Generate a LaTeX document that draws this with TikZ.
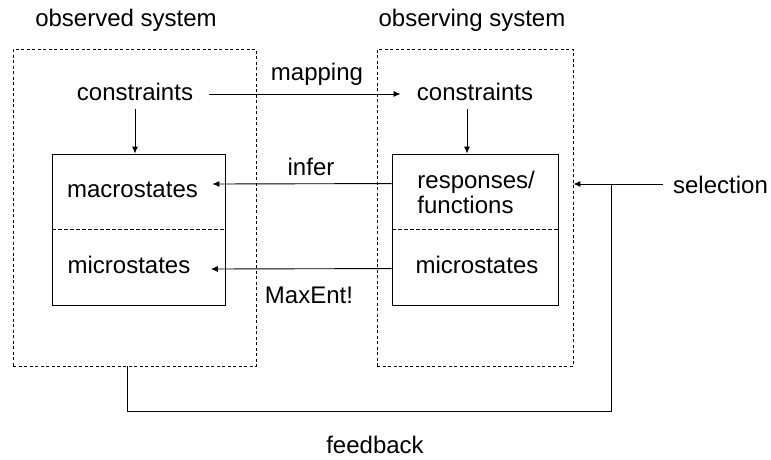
\documentclass[tikz,border=0pt]{standalone}
\usepackage{fontspec}
\setmainfont{Liberation Sans}
\usetikzlibrary{arrows.meta,positioning}

\begin{document}
\begin{tikzpicture}[x=1pt,y=-1pt,line width=0.9pt,
            font=\fontsize{24}{25}\selectfont,inner sep=0pt,
            txt/.style={anchor=base,text height=17pt,text depth=5pt},
            sysbox/.style={draw,dash pattern=on 3pt off 2.5pt,line width=0.8pt,minimum height=317pt},
            statebox/.style={draw,minimum height=151pt},
            divider/.style={dash pattern=on 4pt off 2pt,line width=0.8pt},
            arr/.style={-{Latex[length=7pt,width=6pt]}}]

        \useasboundingbox (0,0) rectangle (771,459);

        % Define systems
        \node[sysbox,minimum width=243pt] (obsd) at (134.5,207.5) {};
        \node[sysbox,minimum width=196pt] (obsg) at (475,207.5) {};
        \node[txt] (obsdlbl) at (126,26) {observed system};
        \node[txt] (obsglbl) at (472,26) {observing system};

        % Define states
        \node[statebox,minimum width=173pt] (stL) at (138.5,229.5) {};
        \node[statebox,minimum width=166pt] (stR) at (475,229.5) {};
        \node[txt] (conL) at (135,100) {constraints};
        \node[txt] (conR) at (475,100) {constraints};
        \node[txt] (macroL) at (132.5,197) {macrostates};
        \node[txt] (microL) at (129,273) {microstates};
        \node[anchor=north west,align=left] (respR) at (417,171) {responses/\\functions};
        \node[txt] (microR) at (477,273) {microstates};

        % Define labels
        \node[txt] (mapping) at (317,80) {mapping};
        \node[txt] (infer) at (311,175) {infer};
        \node[txt] (maxent) at (309,303) {MaxEnt!};
        \node[txt] (sel) at (720.5,193) {selection};
        \node[txt] (fb) at (375,453) {feedback};
        \coordinate (join) at (611,184);

        % Draw edges
        \draw[divider] ([yshift=-76pt]stL.north west) -- ([yshift=-76pt]stL.north east);
        \draw[divider] ([yshift=-76pt]stR.north west) -- ([yshift=-76pt]stR.north east);
        \path[arr]
            ([xshift=16pt]conL.east) edge ([xshift=-16pt]conR.west)
            ([yshift=-4pt]conL.south) edge (conL.south |- stL.north)
            ([xshift=-8pt,yshift=-4pt]conR.south) edge ([xshift=-8pt]conR.south |- stR.north)
            ([yshift=-30pt]stR.north west) edge ([xshift=14pt,yshift=7pt]macroL.east)
            ([yshift=-115pt]stR.north west) edge ([xshift=20pt,yshift=-2pt]microL.east)
            ([xshift=-10pt,yshift=3pt]sel.west) edge (join -| obsg.east);
        \draw ([xshift=-7.5pt]obsd.south) -- ++(0,45) -| (join);

        \end{tikzpicture}
\end{document}
